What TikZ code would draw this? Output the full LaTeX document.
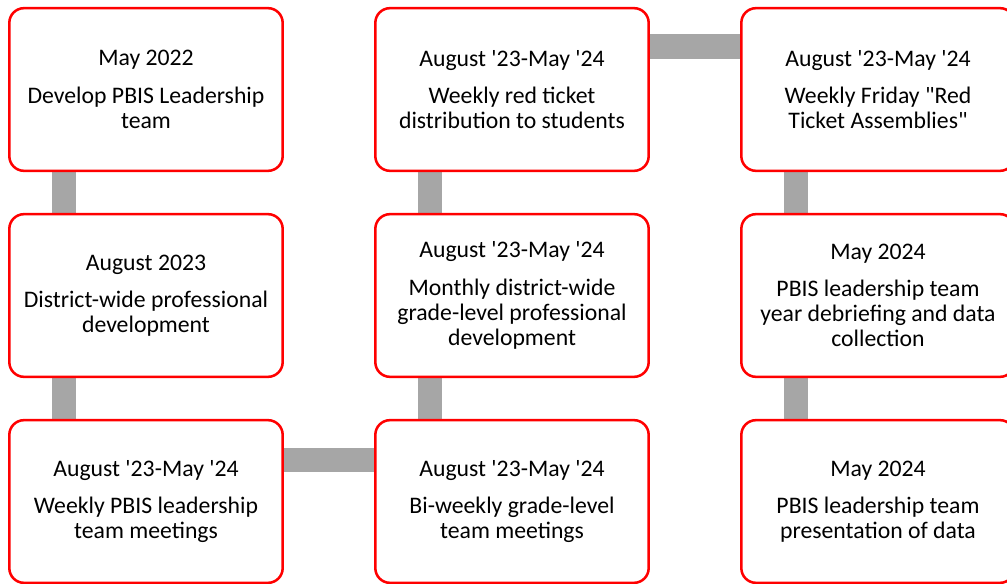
\documentclass[tikz,border=0pt]{standalone}
\usepackage{fontspec}
\newfontfamily\cardfont{Carlito}
\usetikzlibrary{backgrounds}
\definecolor{linkgray}{HTML}{A6A6A6}

\begin{document}
\begin{tikzpicture}[x=0.75pt,y=-0.75pt,
  card/.style={rectangle,draw=red,line width=1.9pt,rounded corners=11pt,fill=white,
    minimum width=205pt,minimum height=122pt,inner sep=2pt,align=center,
    font=\cardfont\fontsize{17.8}{18.9}\selectfont},
  link/.style={draw=linkgray,line width=18.5pt}]
  \useasboundingbox (0,0) rectangle (1007,584);
  \node[card] (t1) at (146,89.5) {May 2022\\[9pt]Develop PBIS Leadership\\team};
  \node[card] (t2) at (146,295.5) {August 2023\\[9pt]District-wide professional\\development};
  \node[card] (t3) at (146,501.5) {August '23-May '24\\[9pt]Weekly PBIS leadership\\team meetings};
  \node[card] (t4) at (512,501.5) {August '23-May '24\\[9pt]Bi-weekly grade-level\\team meetings};
  \node[card] (t5) at (512,295.5) {August '23-May '24\\[9pt]Monthly district-wide\\grade-level professional\\development};
  \node[card] (t6) at (512,89.5) {August '23-May '24\\[9pt]Weekly red ticket\\distribution to students};
  \node[card] (t7) at (878,89.5) {August '23-May '24\\[9pt]Weekly Friday "Red\\Ticket Assemblies"};
  \node[card] (t8) at (878,295.5) {May 2024\\[9pt]PBIS leadership team\\year debriefing and data\\collection};
  \node[card] (t9) at (878,501.5) {May 2024\\[9pt]PBIS leadership team\\presentation of data};
  \begin{scope}[on background layer]
    \draw[link] ([xshift=-61.5pt]t1.center) -- ([xshift=-61.5pt]t2.center);
    \draw[link] ([xshift=-61.5pt]t2.center) -- ([xshift=-61.5pt]t3.center);
    \draw[link] ([yshift=31pt]t3.center) -- ([yshift=31pt]t4.center);
    \draw[link] ([xshift=-61.5pt]t4.center) -- ([xshift=-61.5pt]t5.center);
    \draw[link] ([xshift=-61.5pt]t5.center) -- ([xshift=-61.5pt]t6.center);
    \draw[link] ([yshift=32pt]t6.center) -- ([yshift=32pt]t7.center);
    \draw[link] ([xshift=-61.5pt]t7.center) -- ([xshift=-61.5pt]t8.center);
    \draw[link] ([xshift=-61.5pt]t8.center) -- ([xshift=-61.5pt]t9.center);
  \end{scope}
\end{tikzpicture}
\end{document}
